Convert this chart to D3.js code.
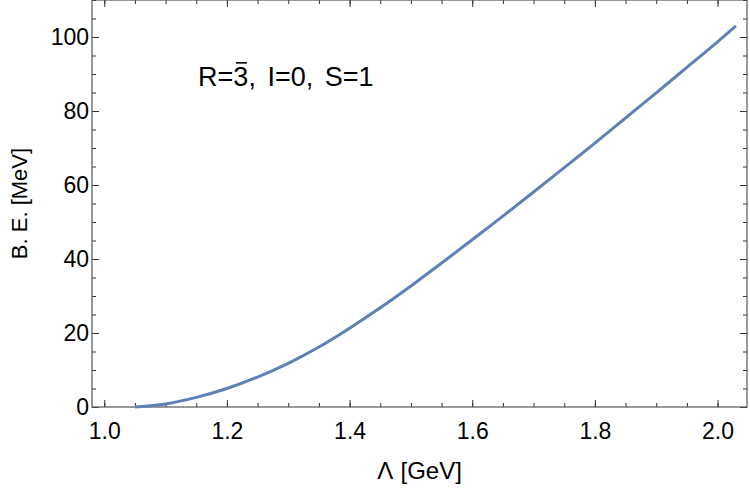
<!DOCTYPE html>
<html>
<head>
<meta charset="utf-8">
<script src="https://cdn.jsdelivr.net/npm/d3@7"></script>
<style>
  body { margin: 0; background: #fff; }
  svg text { font-family: "Liberation Sans", Arial, sans-serif; fill: #000; }
</style>
</head>
<body>
<svg class="js-chart" width="750" height="490"></svg>
<script>
"use strict";

//data

const lambdaGeV = [1.05, 1.10, 1.15, 1.20, 1.25, 1.30, 1.35, 1.40, 1.45, 1.50, 1.55, 1.60,
  1.65, 1.70, 1.75, 1.80, 1.85, 1.90, 1.95, 2.00, 2.03];
const bindingMeV = [0, 0.8, 2.6, 5.0, 8.1, 11.8, 16.2, 21.3, 26.8, 32.7, 38.9, 45.2,
  51.6, 58.1, 64.7, 71.3, 78.1, 84.9, 91.8, 98.7, 103.0];

const xMajor = [1.0, 1.2, 1.4, 1.6, 1.8, 2.0];
const yMajor = [0, 20, 40, 60, 80, 100];

//layout

const frame = { left: 92, right: 747, top: 0, bottom: 407 };

const svg = d3.select(".js-chart");

const x = d3.scaleLinear().domain([0.98, 2.048]).range([frame.left, frame.right]);
const y = d3.scaleLinear().domain([0, 110]).range([frame.bottom, frame.top]);

const xMinor = d3.range(0, 23).map((i) => 0.95 + i * 0.05).filter((v) => v > 0.98 && v < 2.048);
const yMinor = d3.range(0, 23).map((i) => i * 5);

//axes helper

function drawAxis(axisFn, scale, tickVals, size, pos, labels, pad) {

  const ax = axisFn(scale)
    .tickValues(tickVals)
    .tickSizeInner(size)
    .tickSizeOuter(0)
    .tickPadding(pad || 0)
    .tickFormat(labels ? labels : () => "");

  const g = svg.append("g").attr("transform", pos).call(ax);

  g.select(".domain").remove();
  g.selectAll("line").attr("stroke", "#333").attr("stroke-width", 1);
  g.selectAll("text").style("font-size", "23px").attr("fill", "#000");

  return g;

}

const fmtX = (d) => d3.format(".1f")(d);
const fmtY = (d) => d;

//bottom + top

drawAxis(d3.axisBottom, x, xMinor, -4, `translate(0,${frame.bottom})`);
drawAxis(d3.axisBottom, x, xMajor, -7, `translate(0,${frame.bottom})`, fmtX, 16);
drawAxis(d3.axisTop, x, xMinor, -4, `translate(0,${frame.top})`);
drawAxis(d3.axisTop, x, xMajor, -7, `translate(0,${frame.top})`);

//left + right

drawAxis(d3.axisLeft, y, yMinor, -4, `translate(${frame.left},0)`);
drawAxis(d3.axisLeft, y, yMajor, -7, `translate(${frame.left},0)`, fmtY, 3);
drawAxis(d3.axisRight, y, yMinor, -4, `translate(${frame.right},0)`);
drawAxis(d3.axisRight, y, yMajor, -7, `translate(${frame.right},0)`);

//frame

svg.append("rect")
  .attr("x", frame.left)
  .attr("y", frame.top)
  .attr("width", frame.right - frame.left)
  .attr("height", frame.bottom - frame.top)
  .attr("fill", "none")
  .attr("stroke", "#555")
  .attr("stroke-width", 1.2);

//curve

const line = d3.line()
  .x((d, i) => x(lambdaGeV[i]))
  .y((d) => y(d))
  .curve(d3.curveCatmullRom);

svg.append("path")
  .datum(bindingMeV)
  .attr("d", line)
  .attr("fill", "none")
  .attr("stroke", "#5E81B5")
  .attr("stroke-width", 3);

//labels

svg.append("text")
  .attr("x", (frame.left + frame.right) / 2)
  .attr("y", 479)
  .attr("text-anchor", "middle")
  .style("font-size", "24px")
  .style("word-spacing", "2px")
  .text("Λ [GeV]");

svg.append("text")
  .attr("transform", `translate(27,${frame.bottom / 2}) rotate(-90)`)
  .attr("text-anchor", "middle")
  .style("font-size", "22px")
  .text("B. E. [MeV]");

//annotation, with a bar drawn over the 3

const note = svg.append("text")
  .attr("x", x(1.153))
  .attr("y", y(86.8))
  .style("font-size", "27px")
  .style("word-spacing", "4px")
  .text("R=3, I=0, S=1");

const n = note.node();
const b0 = n.getStartPositionOfChar(2).x;
const b1 = n.getEndPositionOfChar(2).x;

svg.append("line")
  .attr("x1", b0 + 2.5)
  .attr("x2", b1 - 1.5)
  .attr("y1", y(86.8) - 23)
  .attr("y2", y(86.8) - 23)
  .attr("stroke", "#000")
  .attr("stroke-width", 1.6);

</script>
</body>
</html>
